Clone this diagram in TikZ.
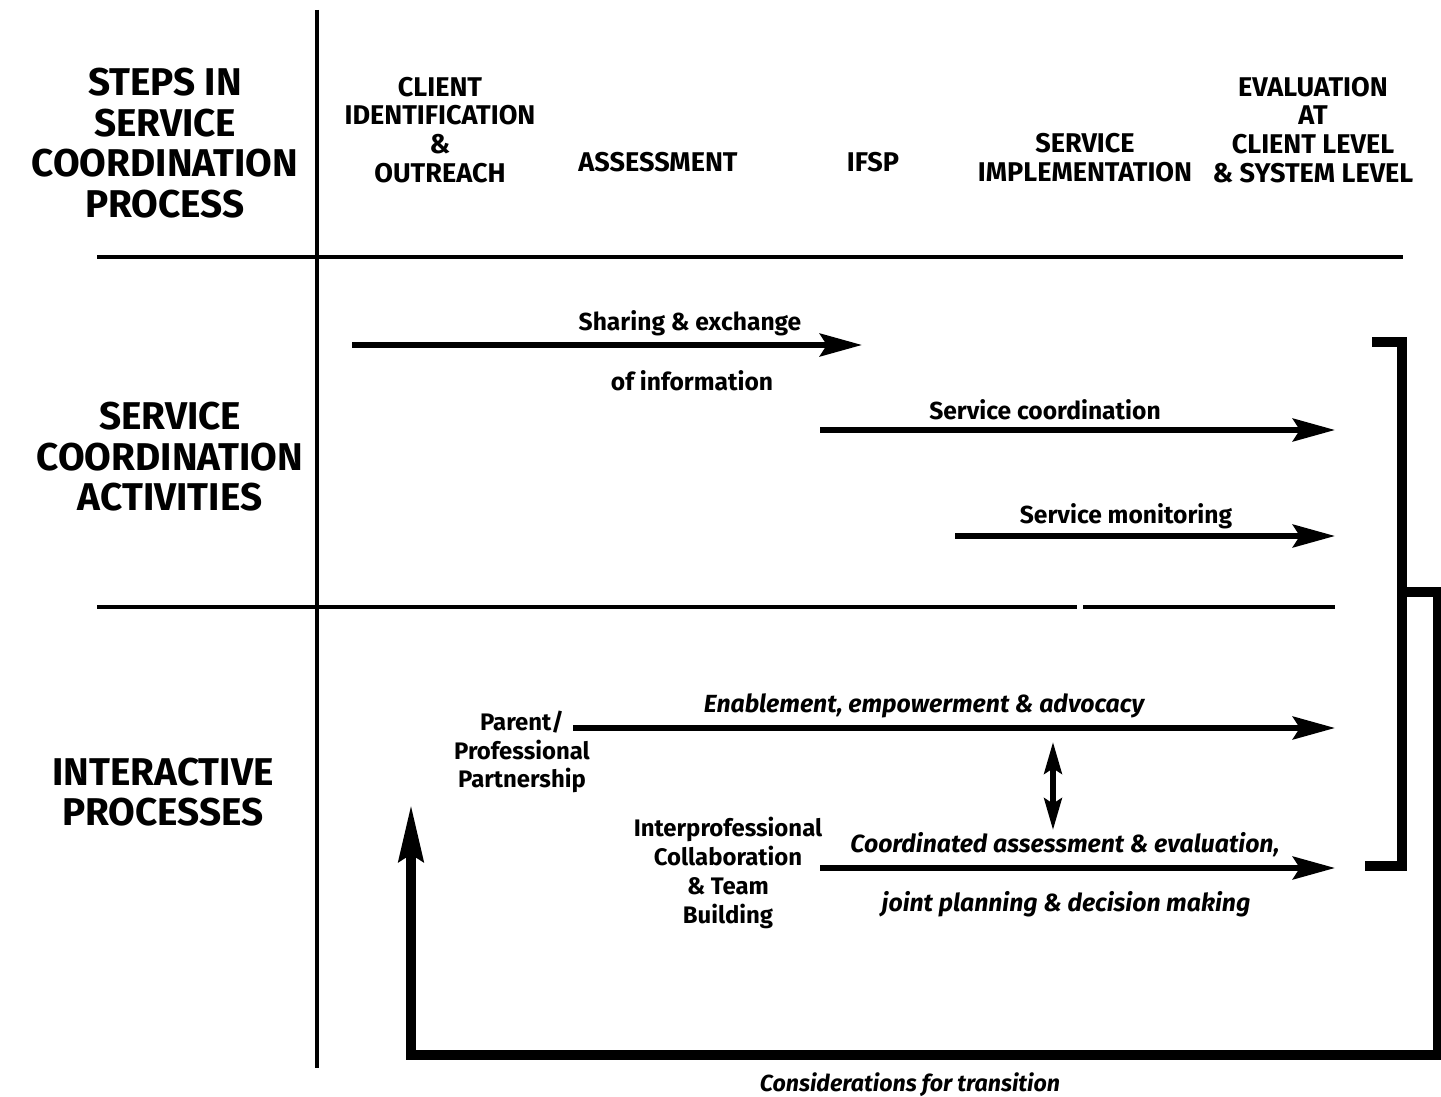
\documentclass[tikz,border=0pt]{standalone}
\usepackage{fontspec}
\setmainfont{Fira Sans}
\usetikzlibrary{arrows.meta, positioning}

\begin{document}
\begin{tikzpicture}[
  x=0.01cm, y=-0.01cm,
  rowhead/.style={font=\bfseries\fontsize{11}{11}\selectfont, align=center, inner sep=0pt},
  colhead/.style={font=\bfseries\fontsize{7.7}{8.2}\selectfont, align=center, inner sep=0pt},
  actlbl/.style={font=\bfseries\fontsize{7}{7}\selectfont, inner sep=0pt},
  itlbl/.style={font=\bfseries\itshape\fontsize{7.05}{7.05}\selectfont, inner sep=0pt},
  partner/.style={font=\bfseries\fontsize{6.8}{8.2}\selectfont, align=center, inner sep=0pt},
  rule/.style={line width=1pt},
  arr/.style={-{Stealth[length=12pt, width=6.5pt, inset=2pt]}, line width=1.6pt},
  dblarr/.style={{Stealth[length=9pt, width=5pt, inset=1.5pt]}-{Stealth[length=9pt, width=5pt, inset=1.5pt]}, line width=1.6pt},
  loop/.style={line width=2.6pt}
]
\useasboundingbox (0,0) rectangle (1441,1097);

% grid lines
\draw[rule] (317,10) -- (317,1068);
\draw[rule] (97,257) -- (1403,257);
\draw[rule] (97,607) -- (1077,607);
\draw[rule] (1083,607) -- (1335,607);

% row headings
\node[rowhead] (steps) at (165,143) {STEPS IN\\[0.5pt]SERVICE\\[0.5pt]COORDINATION\\[0.5pt]PROCESS};
\node[rowhead] (activities) at (170,457) {SERVICE\\[0.5pt]COORDINATION\\[0.5pt]ACTIVITIES};
\node[rowhead] (interactive) at (163,792) {INTERACTIVE\\[0.5pt]PROCESSES};

% column headings
\node[colhead] (client) at (440,130) {CLIENT\\IDENTIFICATION\\\&\\OUTREACH};
\node[colhead] (assess) at (658,162) {ASSESSMENT};
\node[colhead] (ifsp) at (873,162) {IFSP};
\node[colhead] (implement) at (1085,158) {SERVICE\\IMPLEMENTATION};
\node[colhead] (evaluate) at (1313,130) {EVALUATION\\AT\\CLIENT LEVEL\\\& SYSTEM LEVEL};

% activities
\coordinate (share-s) at (352,345);
\coordinate (share-e) at (862,345);
\node[actlbl] (share-a) at (690,323) {Sharing \& exchange};
\node[actlbl] (share-b) at (692,381) {of information};
\draw[arr] (share-s) -- (share-e);

\coordinate (coord-s) at (820,430);
\coordinate (coord-e) at (1335,430);
\node[actlbl] (coord-l) at (1045,410) {Service coordination};
\draw[arr] (coord-s) -- (coord-e);

\coordinate (monit-s) at (955,536);
\coordinate (monit-e) at (1335,536);
\node[actlbl] (monit-l) at (1126,516) {Service monitoring};
\draw[arr] (monit-s) -- (monit-e);

% interactive processes
\node[partner] (parent) at (522,752) {Parent/\\Professional\\Partnership};
\coordinate (enable-s) at (573,728);
\coordinate (enable-e) at (1335,728);
\node[itlbl] (enable-l) at (924,706) {Enablement, empowerment \& advocacy};
\draw[arr] (enable-s) -- (enable-e);

\node[partner] (interprof) at (728,873) {Interprofessional\\Collaboration\\\& Team\\Building};
\coordinate (joint-s) at (820,868);
\coordinate (joint-e) at (1335,868);
\node[itlbl] (joint-a) at (1065,845) {Coordinated assessment \& evaluation,};
\node[itlbl] (joint-b) at (1066,904) {joint planning \& decision making};
\draw[arr] (joint-s) -- (joint-e);

\coordinate (link-t) at (1053,742);
\coordinate (link-b) at (1053,830);
\draw[dblarr] (link-t) -- (link-b);

% bracket and transition loop
\coordinate (br-top) at (1372,342);
\coordinate (br-bot) at (1365,866);
\coordinate (br-mid) at (1402,592);
\coordinate (back-e) at (411,805);
\draw[loop] (br-top) -- (1402,342) -- (1402,866) -- (br-bot);
\draw[loop, -{Stealth[length=16pt, width=7pt, inset=2pt]}] (br-mid) -- (1438,592) -- (1438,1055) -- (411,1055) -- (back-e);
\node[font=\bfseries\itshape\fontsize{6.6}{6.6}\selectfont, inner sep=0pt] (transition) at (910,1085) {Considerations for transition};
\end{tikzpicture}
\end{document}
